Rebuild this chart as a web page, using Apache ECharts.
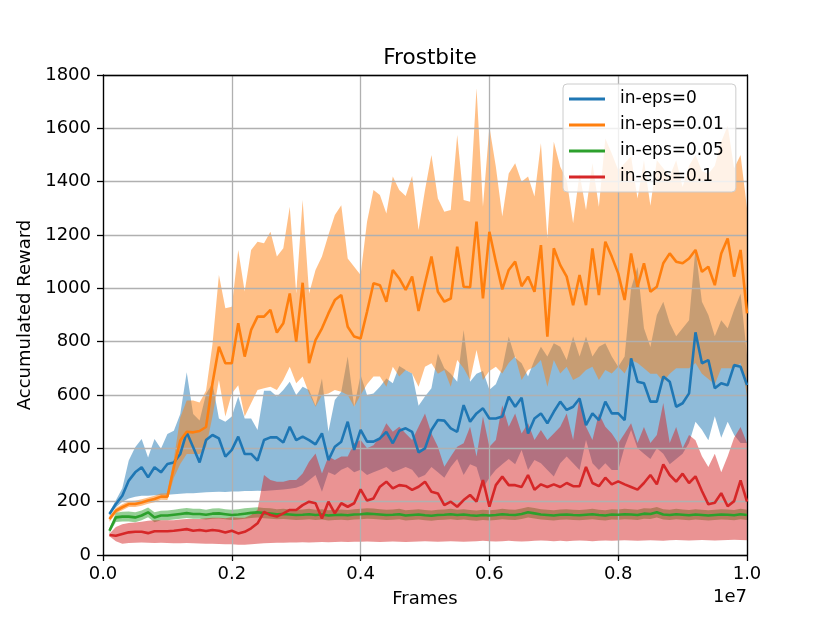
<!DOCTYPE html>
<html><head><meta charset="utf-8">
<script src="https://cdn.jsdelivr.net/npm/echarts@6/dist/echarts.min.js"></script>
<style>html,body{margin:0;padding:0;background:#fff}#c{width:830px;height:623px}</style>
</head><body><div id="c"></div>
<script>
// x grid: one evaluation every 1e5 frames
const frameStep = 100000;
const frames = Array.from({length: 100}, (_, i) => (i + 1) * frameStep);
const xTickLabels = ['0.0', '0.2', '0.4', '0.6', '0.8', '1.0'];
const seriesNames = ['in-eps=0', 'in-eps=0.01', 'in-eps=0.05', 'in-eps=0.1'];

// in-eps=0 (blue)
const blueMean = [
 154,191,222,279,310,329,291,329,310,341,
 347,379,460,404,347,431,450,437,369,394,
 444,379,379,354,431,441,441,422,481,431,
 444,431,415,456,356,406,425,500,394,469,
 425,425,437,462,419,466,475,462,385,400,
 469,506,504,475,462,562,500,531,550,512,
 512,519,594,556,590,456,512,531,494,537,
 575,544,556,587,487,531,506,575,531,531,
 506,737,650,644,575,575,669,650,556,569,
 606,835,719,731,625,644,637,712,706,637];
const blueUpper = [
 160,205,250,354,404,435,366,435,398,454,
 466,529,685,529,504,604,644,512,500,519,
 594,512,512,469,616,616,594,619,650,600,
 631,619,560,662,462,581,612,744,556,675,
 600,606,631,662,644,709,694,681,560,594,
 625,756,700,680,650,844,650,680,690,620,
 640,700,819,740,719,669,731,781,744,794,
 781,731,819,744,819,744,781,794,744,706,
 744,1000,1080,850,780,900,950,870,820,850,
 880,1150,950,900,820,880,850,920,980,750];
const blueLower = [
 148,178,200,212,218,222,222,224,225,226,
 228,230,232,232,233,235,236,237,236,238,
 238,240,240,241,240,242,244,246,248,252,
 262,280,300,237,310,300,320,330,310,320,
 300,310,320,330,310,320,330,320,290,300,
 330,310,290,330,360,300,340,330,250,290,
 320,340,360,340,394,319,356,344,319,294,
 344,369,344,319,431,344,319,344,319,319,
 406,469,400,380,360,400,380,340,360,380,
 420,500,470,430,520,440,500,450,420,420];

// in-eps=0.01 (orange)
const orangeMean = [
 135,166,179,191,191,197,204,210,219,219,
 329,429,462,460,465,480,644,781,719,719,
 869,744,844,894,894,919,834,869,981,800,
 1021,719,806,850,906,956,975,856,819,812,
 912,1019,1012,950,1069,1037,994,1044,915,1019,
 1119,987,950,962,1156,1006,1004,1250,962,1212,
 1100,996,1069,1100,1008,1044,987,1162,819,1150,
 1087,1044,937,1050,937,1150,975,1175,1119,1056,
 956,1131,1006,1094,987,1006,1094,1131,1100,1094,
 1112,1144,1062,1081,1012,1131,1187,1044,1144,906];
const orangeUpper = [
 145,176,190,202,203,209,216,222,231,232,
 360,516,579,579,572,616,790,1050,925,931,
 1144,988,1144,1175,1169,1212,1119,1150,1306,981,
 1331,981,1069,1119,1200,1275,1312,1112,1081,1050,
 1250,1369,1350,1281,1419,1369,1346,1421,1219,1369,
 1500,1337,1287,1294,1575,1331,1325,1750,1306,1606,
 1456,1269,1431,1469,1400,1419,1344,1544,1187,1550,
 1456,1406,1244,1431,1294,1469,1306,1562,1506,1444,
 1469,1494,1337,1480,1310,1480,1450,1420,1480,1380,
 1460,1500,1440,1430,1460,1550,1610,1450,1500,1300];
const orangeLower = [
 125,156,168,180,180,185,192,198,207,206,
 290,341,379,379,379,404,519,656,519,606,
 637,519,569,619,625,631,619,656,706,644,
 669,606,556,600,606,619,612,600,556,600,
 640,669,669,631,706,669,694,681,631,706,
 719,680,694,631,731,700,656,769,656,690,
 706,681,720,744,656,694,706,731,631,731,
 681,706,656,669,694,706,656,694,681,706,
 681,731,720,700,680,680,650,680,700,700,
 700,720,680,660,640,700,700,700,720,600];

// in-eps=0.05 (green)
const greenMean = [
 91,141,144,144,141,148,160,141,148,148,
 151,154,157,154,154,151,155,156,153,150,
 152,155,158,160,157,155,153,154,152,150,
 151,153,150,152,148,150,151,149,152,153,
 155,154,152,150,151,153,148,150,152,149,
 147,150,151,153,150,152,149,147,150,148,
 150,153,151,150,154,160,156,152,150,148,
 151,152,150,149,151,153,150,148,152,151,
 153,152,150,155,154,160,152,150,153,151,
 149,152,150,148,150,152,151,149,153,150];
const greenUpper = [
 100,158,162,163,160,167,178,160,166,167,
 170,173,176,173,173,170,174,175,172,170,
 172,175,177,179,176,175,172,173,171,170,
 171,173,170,172,168,170,171,169,172,173,
 175,174,172,170,171,173,168,170,172,169,
 167,170,171,173,170,172,169,167,170,168,
 170,173,171,170,174,180,176,172,170,168,
 171,172,170,169,171,173,170,168,172,171,
 173,172,170,175,174,180,172,170,173,171,
 169,172,170,168,170,172,171,169,173,170];
const greenLower = [
 82,124,126,126,123,130,142,123,130,130,
 133,136,139,136,136,133,136,137,134,131,
 133,136,139,141,138,136,134,135,133,131,
 132,134,131,133,129,131,132,130,133,134,
 136,135,133,131,132,134,129,131,133,130,
 128,131,132,134,131,133,130,128,131,129,
 131,134,132,131,135,141,137,133,131,129,
 132,133,131,130,132,134,131,129,133,132,
 134,133,131,136,135,141,133,131,134,132,
 130,133,131,129,131,133,132,130,134,131];

// in-eps=0.1 (red)
const redMean = [
 75,72,79,85,87,87,82,89,89,89,
 91,94,97,91,94,90,94,91,84,91,
 81,87,100,119,162,150,144,156,169,169,
 187,200,194,137,200,156,194,181,194,246,
 204,212,256,275,250,262,259,244,256,275,
 237,231,187,200,181,206,225,200,281,181,
 262,294,262,262,255,300,245,265,255,265,
 255,270,258,258,330,270,258,290,265,276,
 265,255,245,270,300,265,340,300,275,305,
 270,295,240,190,196,232,183,202,280,200];
const redUpper = [
 80,105,115,120,122,125,128,130,130,130,
 130,133,135,135,135,138,140,140,138,142,
 140,140,150,170,300,281,275,275,281,281,
 306,350,381,306,369,356,369,369,419,431,
 400,412,444,494,462,481,456,431,481,531,
 456,406,331,369,406,419,481,369,519,406,
 431,562,481,531,456,494,431,469,431,456,
 481,531,431,594,481,431,531,481,456,419,
 456,494,420,480,420,450,570,420,480,400,
 450,430,370,330,380,310,370,440,480,420];
const redLower = [
 70,52,42,45,46,47,46,45,46,45,
 44,44,45,44,43,42,42,41,40,40,
 38,38,40,42,44,45,46,46,47,47,
 48,47,48,49,48,49,50,49,50,50,
 51,50,49,50,51,50,49,50,51,52,
 51,50,51,52,51,50,51,52,53,52,
 51,52,53,52,51,52,53,54,53,52,
 53,52,53,54,53,52,53,54,53,54,
 55,54,53,54,55,54,53,55,56,55,
 54,55,56,55,54,55,56,57,56,55];

const FAM = '"DejaVu Sans", sans-serif';
const defs = [
  {name: seriesNames[0], color: '#1f77b4', band: 'rgba(31,119,180,0.5)', mean: blueMean, lo: blueLower, hi: blueUpper},
  {name: seriesNames[1], color: '#ff7f0e', band: 'rgba(255,127,14,0.5)', mean: orangeMean, lo: orangeLower, hi: orangeUpper},
  {name: seriesNames[2], color: '#2ca02c', band: 'rgba(44,160,44,0.5)', mean: greenMean, lo: greenLower, hi: greenUpper},
  {name: seriesNames[3], color: '#d62728', band: 'rgba(214,39,40,0.5)', mean: redMean, lo: redLower, hi: redUpper}
];
const series = [];
defs.forEach((d, k) => {
  series.push({
    type: 'custom', name: '_band' + k, z: 1, silent: true,
    data: frames.map((x, i) => [x, d.lo[i], d.hi[i]]),
    encode: {x: 0, y: [1, 2]},
    renderItem: (params, api) => {
      if (params.dataIndex !== 0) return null;
      const top = [], bot = [];
      for (let i = 0; i < frames.length; i++) {
        top.push(api.coord([frames[i], d.hi[i]]));
        bot.push(api.coord([frames[i], d.lo[i]]));
      }
      return {type: 'polygon', shape: {points: top.concat(bot.reverse())}, style: {fill: d.band}};
    }
  });
});
defs.forEach(d => {
  series.push({
    type: 'line', name: d.name, z: 3,
    data: frames.map((x, i) => [x, d.mean[i]]),
    symbol: 'none', showSymbol: false,
    lineStyle: {color: d.color, width: 2.6},
    itemStyle: {color: d.color}
  });
});

const axisCommon = {
  z: 2,
  axisLine: {show: true, onZero: false, lineStyle: {color: '#000', width: 1.3}},
  axisTick: {show: true, length: 6, lineStyle: {color: '#000', width: 1.3}},
  splitLine: {show: true, lineStyle: {color: '#b0b0b0', width: 1.3}}
};

const chart = echarts.init(document.getElementById('c'), null, {renderer: 'canvas'});
chart.setOption({
  animation: false,
  backgroundColor: '#fff',
  title: {
    text: 'Frostbite', left: 425, top: 42, textAlign: 'center',
    textStyle: {fontFamily: FAM, fontSize: 21.6, fontWeight: 'normal', color: '#000'}
  },
  grid: {left: 103, right: 83, top: 75, bottom: 68},
  legend: {
    data: seriesNames, orient: 'vertical', left: 563, top: 84,
    icon: 'path://M0,0H36V3H0Z',
    padding: [5, 12, 5, 6], itemWidth: 36, itemHeight: 3, itemGap: 6,
    backgroundColor: 'rgba(255,255,255,0.8)', borderColor: '#cccccc', borderWidth: 1, borderRadius: 4,
    textStyle: {fontFamily: FAM, fontSize: 17, color: '#000', lineHeight: 20, padding: [0, 0, 0, 10]},
    z: 10
  },
  xAxis: [
    Object.assign({}, axisCommon, {
      type: 'value', min: 0, max: 10000000, interval: 2000000,
      name: 'Frames', nameLocation: 'middle', nameGap: 35,
      nameTextStyle: {fontFamily: FAM, fontSize: 18, color: '#000'},
      axisLabel: {
        formatter: v => xTickLabels[Math.round(v / 2000000)],
        fontFamily: FAM, fontSize: 18, color: '#000', margin: 10,
        showMinLabel: true, showMaxLabel: true
      }
    }),
    {type: 'value', position: 'top', min: 0, max: 10000000, z: 2,
     axisLine: {show: true, onZero: false, lineStyle: {color: '#000', width: 1.3}},
     axisTick: {show: false}, axisLabel: {show: false}, splitLine: {show: false}}
  ],
  yAxis: [
    Object.assign({}, axisCommon, {
      type: 'value', min: 0, max: 1800, interval: 200,
      name: 'Accumulated Reward', nameLocation: 'middle', nameGap: 48,
      nameTextStyle: {fontFamily: FAM, fontSize: 18, color: '#000'},
      axisLabel: {formatter: v => String(v), fontFamily: FAM, fontSize: 18, color: '#000', margin: 12}
    }),
    {type: 'value', position: 'right', min: 0, max: 1800, z: 2,
     axisLine: {show: true, onZero: false, lineStyle: {color: '#000', width: 1.3}},
     axisTick: {show: false}, axisLabel: {show: false}, splitLine: {show: false}}
  ],
  graphic: [{
    type: 'text', right: 83, top: 588, z: 10,
    style: {text: '1e7', font: '18px "DejaVu Sans"', fill: '#000'}
  }],
  series: series
});
</script>
</body></html>
